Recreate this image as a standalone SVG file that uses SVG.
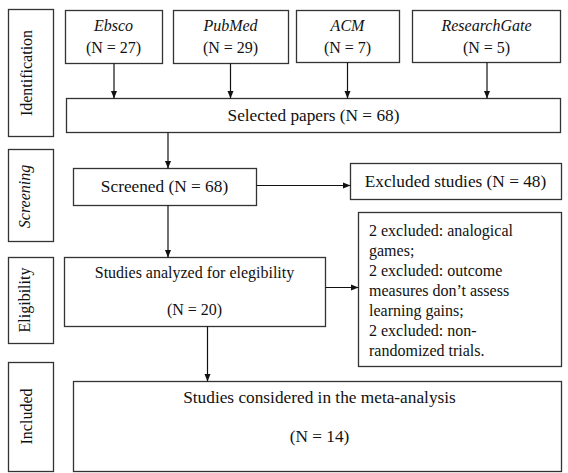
<svg xmlns="http://www.w3.org/2000/svg" width="568" height="473" viewBox="0 0 568 473">
<style>
.box{fill:#fff;stroke:#333;stroke-width:1.3}
.t{font-family:"Liberation Serif","Times New Roman",serif;fill:#111;text-anchor:middle}
.s16{font-size:16px}
.s17{font-size:17.3px}
.it{font-style:italic}
.lft{text-anchor:start}
.conn line{stroke:#111;stroke-width:1.2}
</style>
<defs>
<marker id="ah" viewBox="0 0 10 10" refX="10" refY="5" markerWidth="8" markerHeight="8" markerUnits="userSpaceOnUse" orient="auto">
<path d="M0,1 L10,5 L0,9 Z" fill="#111"/>
</marker>
</defs>
<rect width="568" height="473" fill="#fff"/>

<g id="stage-identification">
<rect class="box" x="8.5" y="9.5" width="45" height="127"/>
<text class="t s16" transform="translate(31.5,73) rotate(-90)">Identification</text>
</g>
<g id="stage-screening">
<rect class="box" x="8.5" y="149.5" width="45" height="92"/>
<text class="t s16 it" transform="translate(30,196.5) rotate(-90)">Screening</text>
</g>
<g id="stage-eligibility">
<rect class="box" x="8.5" y="257.5" width="45" height="86"/>
<text class="t s16" transform="translate(30,300) rotate(-90)">Eligibility</text>
</g>
<g id="stage-included">
<rect class="box" x="8.5" y="362.5" width="45" height="109"/>
<text class="t s16" transform="translate(31.5,416.5) rotate(-90)">Included</text>
</g>

<g id="ebsco">
<rect class="box" x="65.5" y="10.5" width="97" height="53"/>
<text class="t s16 it" x="113.5" y="31">Ebsco</text>
<text class="t s16" x="113.5" y="53">(N = 27)</text>
</g>
<g id="pubmed">
<rect class="box" x="173.5" y="10.5" width="115" height="53"/>
<text class="t s16 it" x="230.5" y="31">PubMed</text>
<text class="t s16" x="230.5" y="53">(N = 29)</text>
</g>
<g id="acm">
<rect class="box" x="296.5" y="10.5" width="103" height="52"/>
<text class="t s16 it" x="347.5" y="31">ACM</text>
<text class="t s16" x="347.5" y="53">(N = 7)</text>
</g>
<g id="researchgate">
<rect class="box" x="412.5" y="10.5" width="148" height="52"/>
<text class="t s16 it" x="486.5" y="31">ResearchGate</text>
<text class="t s16" x="486.5" y="53">(N = 5)</text>
</g>

<g id="selected">
<rect class="box" x="66.5" y="98.5" width="494" height="34"/>
<text class="t s17" x="313.5" y="120.5">Selected papers (N = 68)</text>
</g>
<g id="screened">
<rect class="box" x="73.5" y="168.5" width="183" height="37"/>
<text class="t s17" x="164.5" y="191.5">Screened (N = 68)</text>
</g>
<g id="excluded">
<rect class="box" x="350.5" y="163.5" width="211" height="36"/>
<text class="t s17" x="455.5" y="187">Excluded studies (N = 48)</text>
</g>
<g id="eligibility">
<rect class="box" x="64.5" y="257.5" width="261" height="69"/>
<text class="t s16" x="194.5" y="277.5">Studies analyzed for elegibility</text>
<text class="t s16" x="194.5" y="314.5">(N = 20)</text>
</g>
<g id="exclusions">
<rect class="box" x="358.5" y="212.5" width="203" height="154"/>
<text class="t s16 lft" x="369" y="235.5">2 excluded: analogical</text>
<text class="t s16 lft" x="369" y="255.5">games;</text>
<text class="t s16 lft" x="369" y="275.5">2 excluded: outcome</text>
<text class="t s16 lft" x="369" y="295.5">measures don’t assess</text>
<text class="t s16 lft" x="369" y="315.5">learning gains;</text>
<text class="t s16 lft" x="369" y="335.5">2 excluded: non-</text>
<text class="t s16 lft" x="369" y="355.5">randomized trials.</text>
</g>
<g id="included">
<rect class="box" x="73.5" y="381.5" width="488" height="90"/>
<text class="t s17" x="319.5" y="402.5">Studies considered in the meta-analysis</text>
<text class="t s17" x="319.5" y="441.5">(N = 14)</text>
</g>

<g id="connectors" class="conn">
<line x1="114" y1="63.5" x2="114" y2="98.5" marker-end="url(#ah)"/>
<line x1="230.5" y1="63.5" x2="230.5" y2="98.5" marker-end="url(#ah)"/>
<line x1="347.5" y1="62.5" x2="347.5" y2="98.5" marker-end="url(#ah)"/>
<line x1="487" y1="62.5" x2="487" y2="98.5" marker-end="url(#ah)"/>
<line x1="168" y1="132.5" x2="168" y2="168.5" marker-end="url(#ah)"/>
<line x1="256.5" y1="185.5" x2="350.5" y2="185.5" marker-end="url(#ah)"/>
<line x1="168" y1="205.5" x2="168" y2="257.5" marker-end="url(#ah)"/>
<line x1="325.5" y1="287.5" x2="358.5" y2="287.5" marker-end="url(#ah)"/>
<line x1="207.5" y1="326.5" x2="207.5" y2="381.5" marker-end="url(#ah)"/>
</g>
</svg>
